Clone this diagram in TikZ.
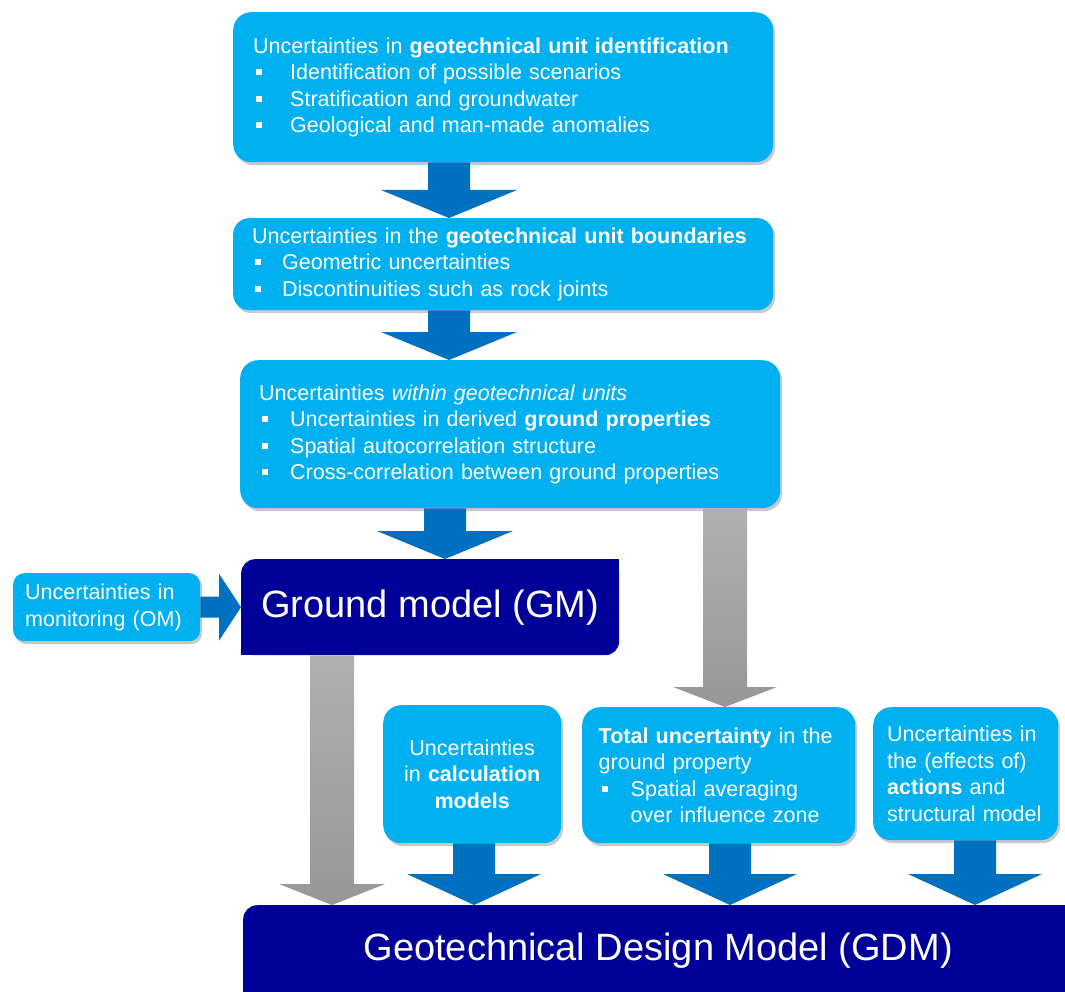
\documentclass[tikz,border=0pt]{standalone}
\usepackage{fontspec}
\setmainfont{Liberation Sans}
\usetikzlibrary{calc,shadows}

\definecolor{boxblue}{HTML}{00B0F0}
\definecolor{arrowblue}{HTML}{0070C0}
\definecolor{modelblue}{HTML}{000099}
\definecolor{greytop}{HTML}{B0B0B0}
\definecolor{greybot}{HTML}{979797}

\newcommand{\bul}[1][32pt]{\makebox[#1][l]{\hspace{3pt}\raisebox{4.5pt}{\rule{6pt}{6pt}}}}
\newcommand{\fatdown}[7]{%
  \path[#1] let \p1=(#3), \p2=(#4) in
    (#2pt-#5pt,\y1) -- (#2pt+#5pt,\y1) -- (#2pt+#5pt,\y2+#7pt)
    -- (#2pt+#6pt,\y2+#7pt) -- (#2pt,\y2) -- (#2pt-#6pt,\y2+#7pt)
    -- (#2pt-#5pt,\y2+#7pt) -- cycle;}

\begin{document}
\begin{tikzpicture}[x=1pt,y=-1pt,
    box/.style={fill=boxblue, text=white, rounded corners=18pt, anchor=north west,
      align=left, inner ysep=0pt,
      drop shadow={shadow xshift=2pt, shadow yshift=-3pt, opacity=.3, fill=black!70},
      font=\fontsize{21.5}{26.5}\selectfont},
    model/.style={fill=modelblue, text=white, rounded corners=14pt, anchor=north west,
      inner sep=0pt, font=\fontsize{38}{44}\selectfont},
    blue arrow/.style={fill=arrowblue},
    grey arrow/.style={top color=greytop, bottom color=greybot, draw=none}]
  \useasboundingbox (0,0) rectangle (1065,992);
  \clip (0,0) rectangle (1065,992);

  \node[box, text width=500pt, inner xsep=20pt, minimum height=150pt] (b1) at (233,12)
    {Uncertainties in \textbf{geotechnical unit identification}\\
     \bul[37pt]Identification of possible scenarios\\
     \bul[37pt]Stratification and groundwater\\
     \bul[37pt]Geological and man-made anomalies};
  \node[box, text width=502pt, inner xsep=19pt, minimum height=92pt, rounded corners=16pt] (b2) at (233,218)
    {Uncertainties in the \textbf{geotechnical unit boundaries}\\
     \bul[30pt]Geometric uncertainties\\
     \bul[30pt]Discontinuities such as rock joints};
  \node[box, text width=502pt, inner xsep=19pt, minimum height=148pt] (b3) at (240,360)
    {Uncertainties \textit{within geotechnical units}\\
     \bul[31pt]Uncertainties in derived \textbf{ground properties}\\
     \bul[31pt]Spatial autocorrelation structure\\
     \bul[31pt]Cross-correlation between ground properties};

  \node[box, text width=163pt, inner xsep=12pt, minimum height=68pt, rounded corners=11pt] (mon) at (13,573)
    {Uncertainties in\\monitoring (OM)};
  \node[model, minimum width=378pt, minimum height=96pt] (gm) at (241,559) {Ground model (GM)};
  \fill[modelblue] (gm.north east) rectangle ++(-16,16);
  \fill[modelblue] (gm.south west) rectangle ++(16,-16);

  \node[box, align=center, text width=160pt, inner xsep=9pt, minimum height=138pt] (calc) at (383,705)
    {Uncertainties\\in \textbf{calculation}\\\textbf{models}};
  \node[box, text width=240pt, inner xsep=16.5pt, minimum height=136pt] (total) at (582,707)
    {\textbf{Total uncertainty} in the\\ground property\\
     \bul[32pt]Spatial averaging\\\makebox[32pt]{}over influence zone};
  \node[box, text width=157pt, inner xsep=14pt, minimum height=133pt] (act) at (873,707)
    {Uncertainties in\\the (effects of)\\\textbf{actions} and\\structural model};

  \node[model, minimum width=830pt, minimum height=90pt] (gdm) at (243,905)
    {Geotechnical Design Model (GDM)};
  \fill[modelblue] (gdm.north east) rectangle ++(-16,16);
  \fill[modelblue] (gdm.south west) rectangle ++(16,-16);
  \fill[modelblue] (gdm.south east) rectangle ++(-16,-16);

  \fatdown{blue arrow}{449}{b1.south}{b2.north}{21}{68}{28}
  \fatdown{blue arrow}{449}{b2.south}{b3.north}{21}{68}{28}
  \fatdown{blue arrow}{445}{b3.south}{gm.north}{21}{68}{28}
  \fatdown{grey arrow}{332}{gm.south}{gdm.north}{22}{53}{21}
  \fatdown{grey arrow}{725}{b3.south}{total.north}{22}{52}{20}
  \fatdown{blue arrow}{474}{calc.south}{gdm.north}{21}{67}{31}
  \fatdown{blue arrow}{730}{total.south}{gdm.north}{21}{67}{31}
  \fatdown{blue arrow}{975}{act.south}{gdm.north}{21}{67}{31}

  \path[blue arrow] let \p1=(mon.east), \p2=(gm.west) in
    (\x1,\y2+10.5pt) -- (\x2-22pt,\y2+10.5pt) -- (\x2-22pt,\y2+33.5pt) -- (\x2,\y2)
    -- (\x2-22pt,\y2-33.5pt) -- (\x2-22pt,\y2-10.5pt) -- (\x1,\y2-10.5pt) -- cycle;
\end{tikzpicture}
\end{document}
